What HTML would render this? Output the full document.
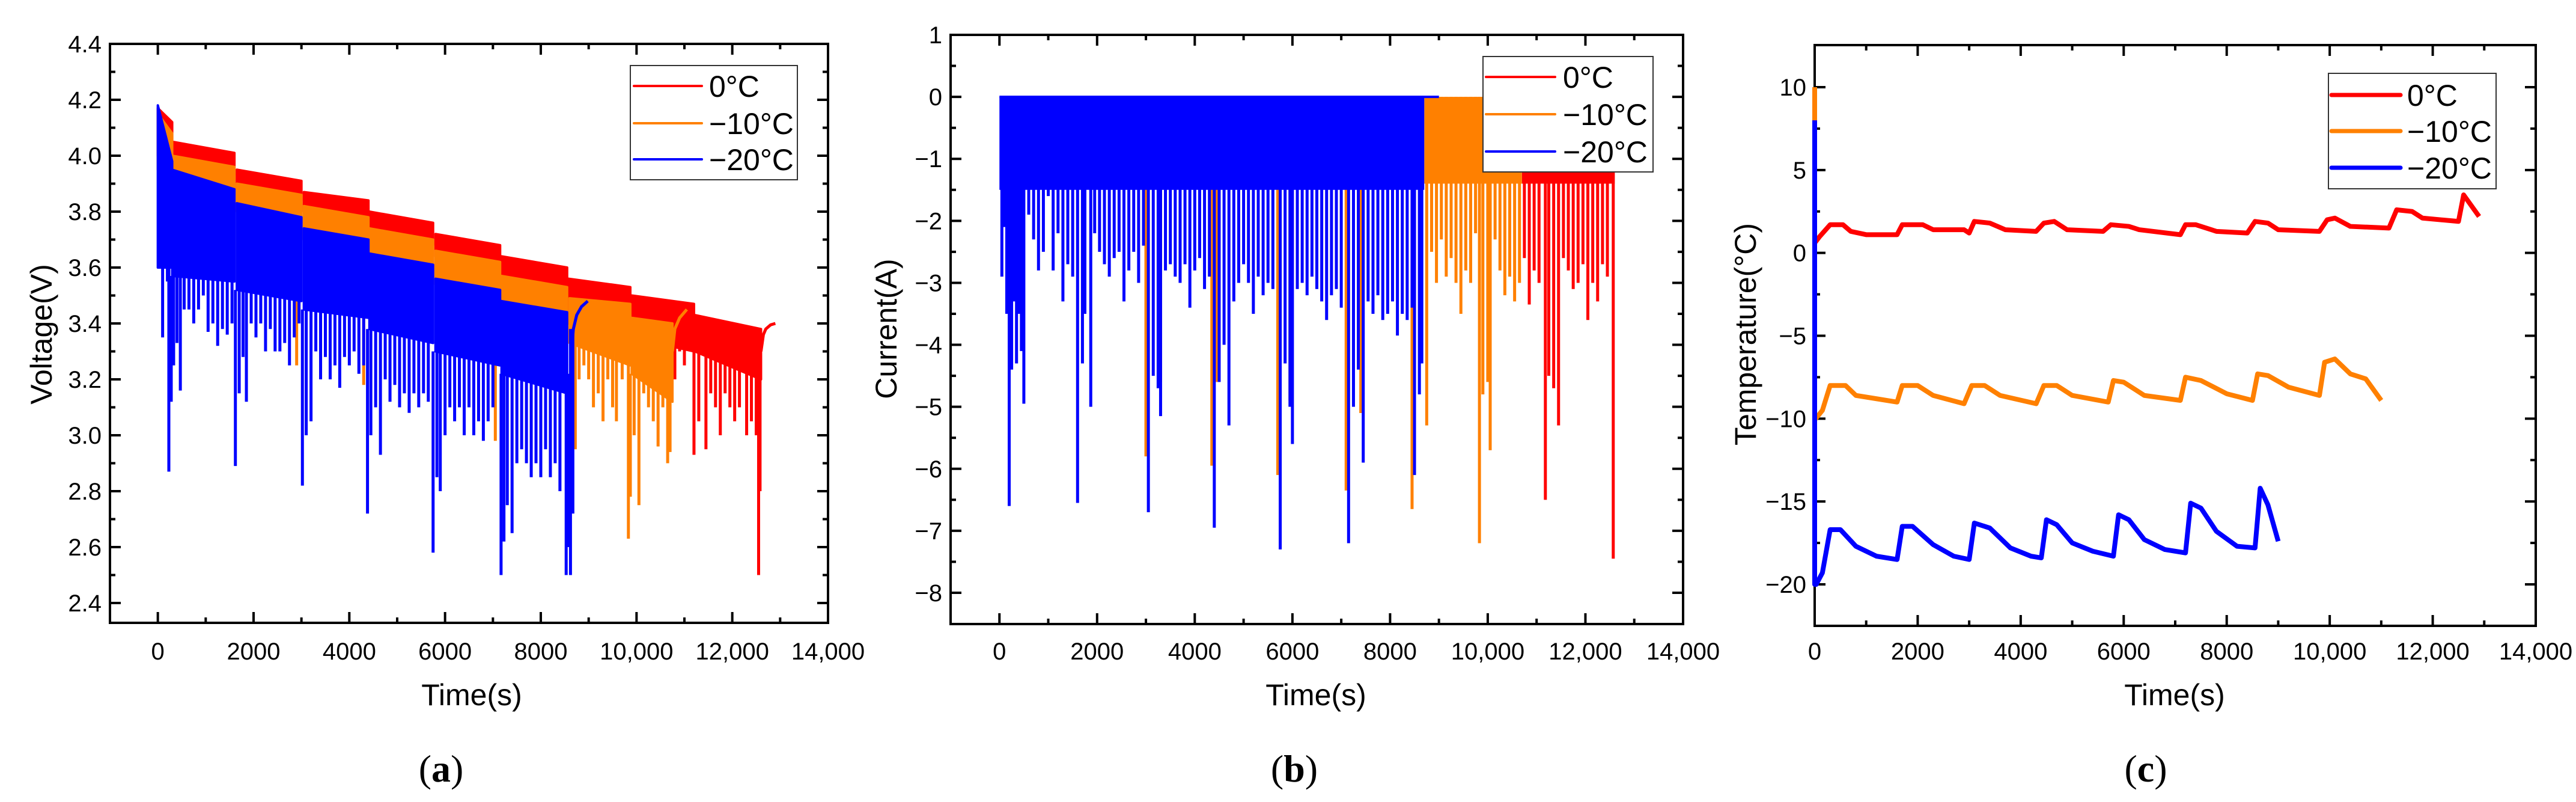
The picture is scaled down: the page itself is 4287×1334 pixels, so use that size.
<!DOCTYPE html>
<html><head><meta charset="utf-8"><style>
html,body{margin:0;padding:0;background:#fff;}
svg{display:block;font-family:"Liberation Sans",Arial,sans-serif;}
</style></head><body>
<svg id="fig" width="4287" height="1334" viewBox="0 0 4287 1334" xmlns="http://www.w3.org/2000/svg">
<rect width="4287" height="1334" fill="#fff"/>
<g id="pa"></g>
<g id="pb"></g>
<g id="pc"></g>
</svg>
<script>
const NS="http://www.w3.org/2000/svg";
const COLORS={red:"#ff0000",orange:"#ff8000",blue:"#0000ff"};
const legendLabels=["0°C","−10°C","−20°C"];
const xTicks=[0,2000,4000,6000,8000,10000,12000,14000];
const xTickLabels=["0","2000","4000","6000","8000","10,000","12,000","14,000"];
const vTicks=[2.4,2.6,2.8,3.0,3.2,3.4,3.6,3.8,4.0,4.2,4.4];
const iTicks=[-8,-7,-6,-5,-4,-3,-2,-1,0,1];
const tTicks=[-20,-15,-10,-5,0,5,10];

// Voltage cycles: [tStart,tEnd,topStart,topEnd,floorStart,floorEnd]
const vRedCycles=[[0,300,4.17,4.12,4.0,4.0],[300,1600,4.05,4.01,3.95,3.93],[1650,3000,3.95,3.91,3.88,3.84],[3050,4400,3.87,3.84,3.80,3.77],[4420,5750,3.80,3.76,3.72,3.68],[5800,7150,3.72,3.68,3.64,3.60],[7180,8550,3.64,3.60,3.56,3.52],[8580,9870,3.56,3.53,3.40,3.35],[9900,11200,3.50,3.47,3.35,3.30],[11220,12600,3.43,3.38,3.30,3.20]];
const vOrangeCycles=[[0,300,4.15,4.08,3.95,3.9],[300,1600,4.00,3.96,3.88,3.86],[1650,3000,3.90,3.86,3.80,3.76],[3050,4400,3.82,3.78,3.70,3.66],[4420,5750,3.74,3.70,3.62,3.58],[5800,7150,3.66,3.62,3.54,3.50],[7180,8550,3.57,3.53,3.46,3.42],[8600,9870,3.49,3.47,3.33,3.25],[9900,10750,3.42,3.40,3.22,3.12]];
const vBlueCycles=[[0,300,4.18,3.98,3.6,3.6],[300,1600,3.95,3.88,3.57,3.55],[1650,3000,3.83,3.78,3.52,3.48],[3050,4400,3.74,3.70,3.45,3.42],[4420,5750,3.65,3.61,3.38,3.33],[5800,7150,3.56,3.52,3.30,3.25],[7180,8550,3.48,3.44,3.22,3.15]];
const vRedRecT=[12600,12650,12700,12800,12900];
const vRedRecV=[3.30,3.36,3.38,3.395,3.40];
const vOrangeRecT=[10750,10800,10900,11000,11050];
const vOrangeRecV=[3.30,3.38,3.42,3.44,3.45];
const vBlueRecT=[8620,8680,8750,8850,8980];
const vBlueRecV=[3.25,3.38,3.43,3.46,3.48];
const vBlueSpikes=[[100,3.35],[200,3.55],[230,2.87],[280,3.12],[330,3.25],[400,3.33],[470,3.16],[550,3.45],[650,3.45],[750,3.4],[850,3.45],[950,3.5],[1050,3.37],[1150,3.4],[1250,3.32],[1350,3.38],[1450,3.36],[1550,3.4],[1620,2.89],[1700,3.15],[1780,3.28],[1850,3.12],[1950,3.4],[2050,3.35],[2150,3.4],[2250,3.3],[2350,3.38],[2450,3.3],[2550,3.3],[2650,3.33],[2750,3.25],[2850,3.35],[2950,3.4],[3020,2.82],[3100,3.0],[3200,3.05],[3300,3.3],[3400,3.2],[3500,3.28],[3600,3.2],[3700,3.25],[3800,3.17],[3900,3.28],[4000,3.25],[4100,3.3],[4200,3.22],[4300,3.25],[4380,2.72],[4450,3.0],[4550,3.1],[4650,2.93],[4750,3.2],[4850,3.12],[4950,3.18],[5050,3.1],[5150,3.15],[5250,3.08],[5350,3.15],[5450,3.1],[5550,3.15],[5650,3.12],[5750,2.58],[5830,2.85],[5900,2.8],[6000,3.0],[6100,3.1],[6200,3.05],[6300,3.1],[6400,3.0],[6500,3.1],[6600,3.0],[6700,3.05],[6800,2.98],[6900,3.05],[7000,3.1],[7170,2.5],[7230,2.62],[7300,2.75],[7400,2.65],[7500,2.9],[7600,2.95],[7700,2.9],[7800,2.85],[7900,2.9],[8000,2.85],[8100,2.95],[8200,2.85],[8300,2.9],[8400,2.8],[8530,2.5],[8580,2.6],[8620,2.5],[8670,2.72]];
const vOrangeSpikes=[[2900,3.25],[4300,3.18],[7050,2.98],[8720,2.95],[8800,3.2],[8900,3.25],[9000,3.2],[9100,3.1],[9200,3.15],[9300,3.05],[9400,3.2],[9500,3.1],[9580,3.05],[9700,3.2],[9830,2.63],[9870,2.78],[9950,3.0],[10050,2.75],[10150,3.15],[10250,3.1],[10350,3.05],[10450,2.96],[10550,3.1],[10650,2.9],[10700,2.94]];
const vRedSpikes=[[10800,3.2],[10900,3.3],[11000,3.25],[11200,2.93],[11300,3.05],[11450,2.95],[11550,3.15],[11650,3.1],[11750,3.0],[11850,3.15],[11950,3.1],[12050,3.05],[12150,3.1],[12300,3.0],[12400,3.05],[12500,3.0],[12550,2.5],[12580,2.8]];

// Current: dense bands [tStart,tEnd,floor] and spikes [t,value]
const iRedBands=[[10700,12600,-1.4]];
const iOrangeBands=[[8700,10700,-1.4]];
const iBlueBands=[[0,8700,-1.5]];
const iBlueSpikes=[[50,-2.9],[100,-2.1],[150,-3.5],[200,-6.6],[250,-4.4],[300,-3.3],[350,-4.3],[400,-3.5],[450,-4.1],[500,-4.95],[600,-1.9],[700,-2.3],[800,-2.8],[900,-2.5],[1000,-1.6],[1100,-2.8],[1200,-2.2],[1300,-3.3],[1400,-2.7],[1500,-2.9],[1600,-6.55],[1700,-4.3],[1750,-3.5],[1870,-5.0],[1950,-2.2],[2050,-2.5],[2150,-2.7],[2250,-2.9],[2350,-2.6],[2450,-2.5],[2550,-3.3],[2650,-2.8],[2750,-2.5],[2850,-3.0],[2950,-2.4],[3050,-6.7],[3150,-4.5],[3250,-4.7],[3300,-5.15],[3400,-2.8],[3500,-2.7],[3600,-2.9],[3700,-3.0],[3800,-2.7],[3900,-3.4],[4000,-2.8],[4100,-2.6],[4200,-3.1],[4300,-2.9],[4400,-6.95],[4500,-4.6],[4600,-4.0],[4700,-5.3],[4800,-3.3],[4900,-3.0],[5000,-2.7],[5100,-3.0],[5200,-3.5],[5300,-2.9],[5400,-3.2],[5500,-3.0],[5600,-3.1],[5750,-7.3],[5850,-4.3],[5950,-5.0],[6000,-5.6],[6100,-3.1],[6200,-3.0],[6300,-3.2],[6400,-2.9],[6500,-3.1],[6600,-3.3],[6700,-3.6],[6800,-3.2],[6900,-3.1],[7000,-3.4],[7150,-7.2],[7250,-5.0],[7350,-4.4],[7450,-5.9],[7550,-3.3],[7650,-3.5],[7750,-3.2],[7850,-3.6],[7950,-3.5],[8050,-3.3],[8150,-3.85],[8250,-3.5],[8350,-3.6],[8450,-3.4],[8500,-6.1],[8600,-4.8],[8650,-4.3]];
const iOrangeSpikes=[[3000,-5.8],[3300,-4.6],[4350,-5.95],[4450,-4.6],[5700,-6.1],[5950,-4.9],[7100,-6.35],[7400,-5.1],[8450,-6.65],[8750,-5.3],[8850,-2.5],[8950,-3.0],[9050,-2.3],[9150,-2.9],[9250,-2.6],[9350,-3.0],[9450,-3.5],[9550,-2.8],[9650,-3.0],[9750,-2.2],[9830,-7.2],[9900,-4.8],[10000,-4.6],[10050,-5.7],[10150,-2.3],[10250,-2.8],[10350,-3.2],[10450,-2.9],[10550,-3.3],[10650,-3.0]];
const iRedSpikes=[[10750,-2.6],[10850,-3.35],[10950,-2.8],[11050,-3.0],[11180,-6.5],[11250,-4.5],[11350,-4.7],[11450,-5.3],[11550,-2.6],[11650,-2.8],[11750,-3.1],[11850,-3.0],[11950,-2.7],[12050,-3.6],[12150,-3.0],[12250,-3.3],[12350,-2.7],[12450,-2.9],[12570,-7.45]];

// Temperature
const tRedT=[0,100,300,550,700,1000,1600,1700,2100,2300,2900,3000,3100,3400,3700,4300,4450,4650,4900,5600,5750,6100,6300,7100,7200,7400,7800,8400,8550,8800,9000,9800,9950,10100,10400,11150,11300,11600,11800,12500,12600,12900];
const tRedV=[0.6,1.0,1.7,1.7,1.3,1.1,1.1,1.7,1.7,1.4,1.4,1.2,1.9,1.8,1.4,1.3,1.8,1.9,1.4,1.3,1.7,1.6,1.4,1.1,1.7,1.7,1.3,1.2,1.9,1.8,1.4,1.3,2.0,2.1,1.6,1.5,2.6,2.5,2.1,1.9,3.5,2.2];
const tOrangeT=[0,0,20,150,300,600,800,1200,1600,1700,2000,2300,2900,3050,3300,3600,4300,4450,4700,5000,5700,5800,6000,6400,7100,7200,7500,8000,8500,8600,8800,9200,9800,9900,10100,10400,10700,11000];
const tOrangeV=[10,-10,-10,-9.5,-8,-8,-8.6,-8.8,-9.0,-8,-8,-8.6,-9.1,-8,-8,-8.6,-9.1,-8,-8,-8.6,-9,-7.7,-7.8,-8.6,-8.9,-7.5,-7.7,-8.5,-8.9,-7.3,-7.4,-8.1,-8.6,-6.6,-6.4,-7.3,-7.6,-8.9];
const tBlueT=[0,0,30,150,300,500,800,1200,1600,1700,1900,2300,2700,3000,3100,3400,3800,4200,4400,4500,4700,5000,5400,5800,5900,6100,6400,6800,7200,7300,7500,7800,8200,8550,8650,8800,9000];
const tBlueV=[8,-20,-20,-19.3,-16.7,-16.7,-17.7,-18.3,-18.5,-16.5,-16.5,-17.6,-18.3,-18.5,-16.3,-16.6,-17.8,-18.3,-18.4,-16.1,-16.4,-17.5,-18,-18.3,-15.8,-16.1,-17.3,-17.9,-18.1,-15.1,-15.4,-16.8,-17.7,-17.8,-14.2,-15.2,-17.4];

function el(tag,attrs,parent){const e=document.createElementNS(NS,tag);for(const k in attrs)e.setAttribute(k,attrs[k]);parent.appendChild(e);return e;}
function linear(d0,d1,r0,r1){return v=>r0+(v-d0)*(r1-r0)/(d1-d0);}

function axes(g,P,yTicks,yFmt,yMinorStep,yTitle,cap){
  const sx=P.sx,sy=P.sy;
  const tg=el("g",{},g);
  
  
  for(let t=P.tMin;t<=P.tMax;t+=1000){
    const major=(t%2000===0);const L=major?18:9;const x=sx(t);
    el("line",{x1:x,y1:P.bottom,x2:x,y2:P.bottom-L,stroke:"#000","stroke-width":4},tg);
    el("line",{x1:x,y1:P.top,x2:x,y2:P.top+L,stroke:"#000","stroke-width":4},tg);
  }
  xTicks.forEach((t,i)=>{
    const tx=el("text",{x:sx(t),y:1097,"font-size":40,"text-anchor":"middle",fill:"#000"},g);
    
    
    tx.textContent=xTickLabels[i];
  });
  const yLo=yTicks[0],yHi=yTicks[yTicks.length-1];
  for(let v=yLo-yMinorStep*2;v<=yHi+yMinorStep*2+1e-9;v+=yMinorStep){
    const y=sy(v);if(y<P.top+2||y>P.bottom-2)continue;
    const major=yTicks.some(t=>Math.abs(t-v)<1e-6);const L=major?18:9;
    el("line",{x1:P.left,y1:y,x2:P.left+L,y2:y,stroke:"#000","stroke-width":4},tg);
    el("line",{x1:P.right,y1:y,x2:P.right-L,y2:y,stroke:"#000","stroke-width":4},tg);
  }
  yTicks.forEach(v=>{
    const ty=el("text",{x:P.left-14,y:sy(v)+14,"font-size":40,"text-anchor":"end",fill:"#000"},g);
    
    
    ty.textContent=yFmt(v);
  });
  const fr=el("rect",{x:P.left,y:P.top,width:P.right-P.left,height:P.bottom-P.top,fill:"none",stroke:"#000","stroke-width":4},g);
  
  
  const xt=el("text",{x:P.xTitleX,y:1173,"font-size":50,"text-anchor":"middle",fill:"#000"},g);
  
  
  xt.textContent="Time(s)";
  const yt=el("text",{x:0,y:0,"font-size":50,"text-anchor":"middle",fill:"#000",transform:`translate(${P.yTitleX},${P.yTitleY}) rotate(-90)`},g);
  
  
  yt.textContent=yTitle;
  const ct=el("text",{x:P.capX,y:1300,"font-size":64,"text-anchor":"middle",fill:"#000","font-family":"Liberation Serif, serif"},g);
  
  
  const b=document.createElementNS(NS,"tspan");b.setAttribute("font-weight","bold");b.textContent=cap;
  ct.appendChild(document.createTextNode("("));ct.appendChild(b);ct.appendChild(document.createTextNode(")"));
}
function legend(g,L,lw){
  const lg=el("g",{},g);
  
  
  el("rect",{x:L.x,y:L.y,width:L.w,height:L.h,fill:"#fff",stroke:"#333","stroke-width":2},lg);
  const cols=[COLORS.red,COLORS.orange,COLORS.blue];
  legendLabels.forEach((lab,i)=>{
    const y=L.rows[i];
    const ln=el("line",{x1:L.lx1,x2:L.lx2,y1:y,y2:y,stroke:cols[i],"stroke-width":lw,"stroke-linecap":"round"},lg);
    
    
    const t=el("text",{x:L.tx,y:y+18,"font-size":50,fill:"#000"},lg);
    
    
    t.textContent=lab;
  });
}

// ---------- Panel A ----------
(function(){
  const g=document.getElementById("pa");
  const P={left:183,right:1378,top:73,bottom:1036,tMin:-1000,tMax:14000,xTitleX:785,yTitleX:86,yTitleY:556,capX:734};
  P.sx=linear(-1000,14000,183,1378);P.sy=linear(4.4,2.4,73,1003);
  const clip=el("clipPath",{id:"ca"},g);el("rect",{x:P.left,y:P.top,width:P.right-P.left,height:P.bottom-P.top},clip);
  const data=el("g",{"clip-path":"url(#ca)"},g);
  const series=[[vRedCycles,vRedSpikes,vRedRecT,vRedRecV,COLORS.red,'series-0c'],[vOrangeCycles,vOrangeSpikes,vOrangeRecT,vOrangeRecV,COLORS.orange,'series-minus10c'],[vBlueCycles,vBlueSpikes,vBlueRecT,vBlueRecV,COLORS.blue,'series-minus20c']];
  series.forEach(([cyc,sp,rt,rv,col,nm])=>{
    const sg=el("g",{},data);
    
    
    cyc.forEach(c=>{
      const pts=[[c[0],c[2]],[c[1],c[3]],[c[1],c[5]],[c[0],c[4]]].map(p=>P.sx(p[0])+","+P.sy(p[1])).join(" ");
      const pg=el("polygon",{points:pts,fill:col,stroke:col,"stroke-width":4,"stroke-linejoin":"round"},sg);
      
      
    });
    sp.forEach(s=>{
      let top=null;cyc.forEach(c=>{if(s[0]>=c[0]-60&&s[0]<=c[1]+60)top=c[4];});
      if(top===null)top=rv[rv.length-1]-0.1;
      const x=P.sx(s[0]);
      const ln=el("line",{x1:x,x2:x,y1:P.sy(top),y2:P.sy(s[1]),stroke:col,"stroke-width":5},sg);
      
      
    });
    const pl=el("polyline",{points:rt.map((t,i)=>P.sx(t)+","+P.sy(rv[i])).join(" "),fill:"none",stroke:col,"stroke-width":5},sg);
    
    
  });
  axes(g,P,vTicks,v=>v.toFixed(1),0.1,"Voltage(V)","a");
  legend(g,{x:1049,y:109,w:278,h:190,rows:[143,205,265],lx1:1055,lx2:1168,tx:1180},4);
})();

// ---------- Panel B ----------
(function(){
  const g=document.getElementById("pb");
  const P={left:1582,right:2801,top:58,bottom:1038,tMin:-1000,tMax:14000,xTitleX:2190,yTitleX:1492,yTitleY:547,capX:2154};
  P.sx=linear(-1000,14000,1582,2801);P.sy=linear(1,-8,58,986);
  const clip=el("clipPath",{id:"cb"},g);el("rect",{x:P.left,y:P.top,width:P.right-P.left,height:P.bottom-P.top},clip);
  const data=el("g",{"clip-path":"url(#cb)"},g);
  const series=[[iRedBands,iRedSpikes,COLORS.red,'series-0c'],[iOrangeBands,iOrangeSpikes,COLORS.orange,'series-minus10c'],[iBlueBands,iBlueSpikes,COLORS.blue,'series-minus20c']];
  series.forEach(([bands,sp,col,nm])=>{
    const sg=el("g",{},data);
    
    
    bands.forEach(b=>{
      const r=el("rect",{x:P.sx(b[0]),y:P.sy(0),width:P.sx(b[1])-P.sx(b[0]),height:P.sy(b[2])-P.sy(0),fill:col},sg);
      
      
    });
    sp.forEach(s=>{
      const x=P.sx(s[0]);
      const ln=el("line",{x1:x,x2:x,y1:P.sy(0),y2:P.sy(s[1]),stroke:col,"stroke-width":5},sg);
      
      
    });
  });
  const zl=el("line",{x1:P.sx(0),x2:P.sx(9000),y1:P.sy(0),y2:P.sy(0),stroke:COLORS.blue,"stroke-width":4},data);
  
  
  axes(g,P,iTicks,v=>v<0?"−"+Math.abs(v):String(v),0.5,"Current(A)","b");
  legend(g,{x:2468,y:94,w:283,h:192,rows:[128,190,252],lx1:2473,lx2:2588,tx:2601},4);
})();

// ---------- Panel C ----------
(function(){
  const g=document.getElementById("pc");
  const P={left:3020,right:4220,top:75,bottom:1041,tMin:0,tMax:14000,xTitleX:3619,yTitleX:2922,yTitleY:556,capX:3571};
  P.sx=linear(0,14000,3020,4220);P.sy=linear(10,-20,145,972);
  axes(g,P,tTicks,v=>v<0?"−"+Math.abs(v):String(v),2.5,"Temperature(°C)","c");
  const clip=el("clipPath",{id:"cc"},g);el("rect",{x:P.left-4,y:P.top,width:P.right-P.left+4,height:P.bottom-P.top},clip);
  const data=el("g",{"clip-path":"url(#cc)"},g);
  [[tRedT,tRedV,COLORS.red,'series-0c'],[tOrangeT,tOrangeV,COLORS.orange,'series-minus10c'],[tBlueT,tBlueV,COLORS.blue,'series-minus20c']].forEach(([T,V,col,nm])=>{
    const pl=el("polyline",{points:T.map((t,i)=>P.sx(t)+","+P.sy(V[i])).join(" "),fill:"none",stroke:col,"stroke-width":8,"stroke-linejoin":"round"},data);
    
    
  });
  legend(g,{x:3875,y:122,w:279,h:192,rows:[158,218,279],lx1:3880,lx2:3995,tx:4006},7);
})();
</script>
</body></html>
